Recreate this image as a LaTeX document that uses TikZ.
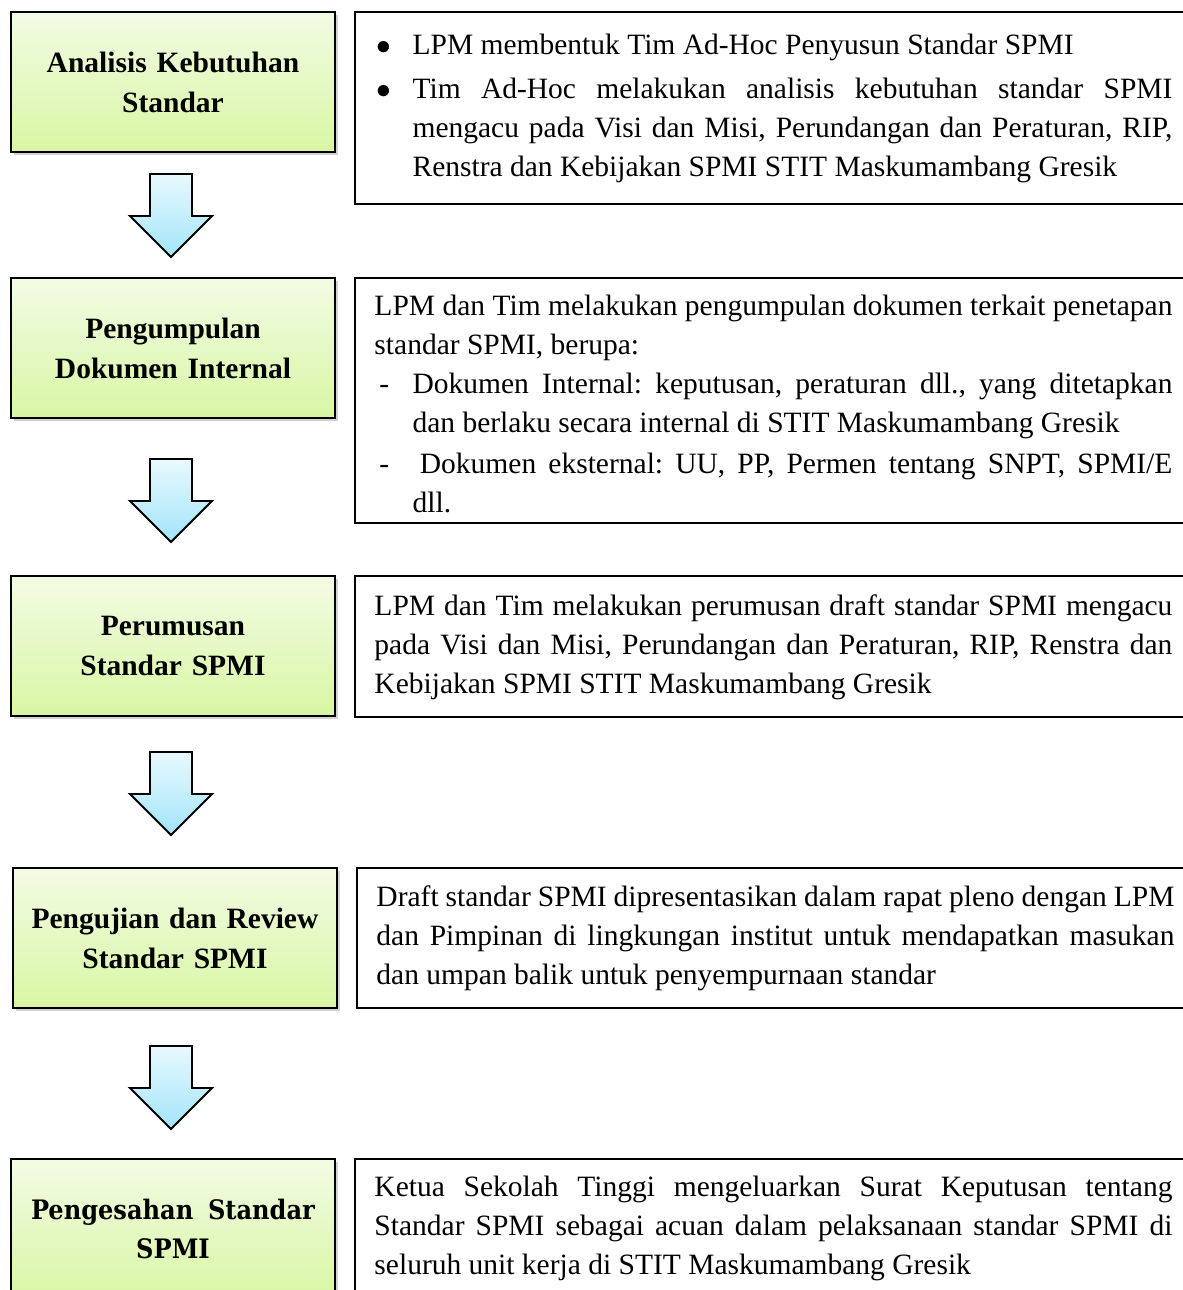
\documentclass[tikz,border=0pt]{standalone}
\usepackage{fontspec}
\setmainfont{Liberation Serif}
\newfontfamily\sahfont{DejaVu Serif Condensed}
\usetikzlibrary{calc,shadows}

\definecolor{boxtop}{HTML}{F2FCE4}
\definecolor{boxbot}{HTML}{D8F6A4}
\definecolor{arrtop}{HTML}{E8F9FE}
\definecolor{arrbot}{HTML}{A2E4FA}

\newcommand{\itembox}[2]{\makebox[15.5pt][l]{#1}\parbox[t]{309.1pt}{\strut #2\strut}}

\tikzset{
  stepbox/.style={draw, line width=0.8pt, anchor=north west,
    minimum width=131.8pt, minimum height=57pt, text width=122pt,
    align=center, top color=boxtop, bottom color=boxbot,
    font=\fontsize{12}{16.2}\selectfont\bfseries,
    drop shadow={shadow xshift=1.2pt, shadow yshift=-1.2pt, opacity=0.35}},
  descbox/.style={draw, line width=0.7pt, anchor=north west, minimum width=341.7pt},
  desctext/.style={anchor=base west, text width=324.6pt, align=justify, inner sep=0pt},
  blockarrow/.style={draw, line width=0.8pt, line join=miter, top color=arrtop, bottom color=arrbot}
}

\begin{document}
\begin{tikzpicture}[x=0.4068pt, y=-0.4068pt, font=\fontsize{12}{15.9}\selectfont]
    \useasboundingbox (0,0) rectangle (1182,1290);

    % steps on the left
    \node[stepbox] (g1) at (10,11) {Analisis Kebutuhan\\Standar};
    \node[stepbox] (g2) at (10,277) {Pengumpulan\\Dokumen Internal};
    \node[stepbox] (g3) at (10,575) {Perumusan\\Standar SPMI};
    \node[stepbox] (g4) at (12,867) {Pengujian dan Review\\Standar SPMI};
    \node[stepbox, text width=127pt, inner xsep=2pt, font=\fontsize{10.9}{16}\selectfont\sahfont\bfseries] (g5) at (10,1158) {Pengesahan\hspace{0.55em}Standar\\SPMI};

    % block arrows between the steps
    \foreach \y in {174,459,752,1046}
      \draw[blockarrow] (150,\y) -- (192,\y) -- (192,\y+42) -- (212,\y+42)
        -- (171,\y+83) -- (130,\y+42) -- (150,\y+42) -- cycle;

    % descriptions on the right
    \node[descbox, minimum height=78.1pt] (d1) at (354,11) {};
    \node[descbox, minimum height=99.7pt] (d2) at (354,277) {};
    \node[descbox, minimum height=57.4pt] (d3) at (354,575) {};
    \node[descbox, minimum height=57pt] (d4) at (356,867) {};
    \node[descbox, minimum height=57pt] (d5) at (354,1158) {};

    \node[desctext] (t1) at ($(d1.north west)+(20,44)$) {\frenchspacing\hyphenpenalty=10000\exhyphenpenalty=10000\parskip=1.6pt
      \itembox{\hspace{1pt}$\bullet$}{LPM membentuk Tim Ad-Hoc Penyusun Standar SPMI}\par
      \itembox{\hspace{1pt}$\bullet$}{Tim Ad-Hoc melakukan analisis kebutuhan standar SPMI \linebreak mengacu pada Visi dan Misi, Perundangan dan Peraturan, RIP, \linebreak Renstra dan Kebijakan SPMI STIT Maskumambang Gresik}};
    \node[desctext] (t2) at ($(d2.north west)+(20,38)$) {\frenchspacing\hyphenpenalty=10000\exhyphenpenalty=10000
      LPM dan Tim melakukan pengumpulan dokumen terkait penetapan \linebreak standar SPMI, berupa:\par
      \itembox{\hspace{2pt}-}{Dokumen Internal: keputusan, peraturan dll., yang ditetapkan \linebreak dan berlaku secara internal di STIT Maskumambang Gresik}\par
      \itembox{\hspace{2pt}-}{\hspace{3pt}Dokumen eksternal: UU, PP, Permen tentang SNPT, SPMI/E \linebreak dll.}};
    \node[desctext] (t3) at ($(d3.north west)+(20,40)$) {\frenchspacing\hyphenpenalty=10000
      LPM dan Tim melakukan perumusan draft standar SPMI mengacu \linebreak pada Visi dan Misi, Perundangan dan Peraturan, RIP, Renstra dan \linebreak Kebijakan SPMI STIT Maskumambang Gresik};
    \node[desctext] (t4) at ($(d4.north west)+(20,39)$) {\frenchspacing\hyphenpenalty=10000
      Draft standar SPMI dipresentasikan dalam rapat pleno dengan LPM \linebreak dan Pimpinan di lingkungan institut untuk mendapatkan masukan \linebreak dan umpan balik untuk penyempurnaan standar};
    \node[desctext] (t5) at ($(d5.north west)+(20,38)$) {\frenchspacing\hyphenpenalty=10000
      Ketua Sekolah Tinggi mengeluarkan Surat Keputusan tentang \linebreak Standar SPMI sebagai acuan dalam pelaksanaan standar SPMI di \linebreak seluruh unit kerja di STIT Maskumambang Gresik};

\end{tikzpicture}
\end{document}
